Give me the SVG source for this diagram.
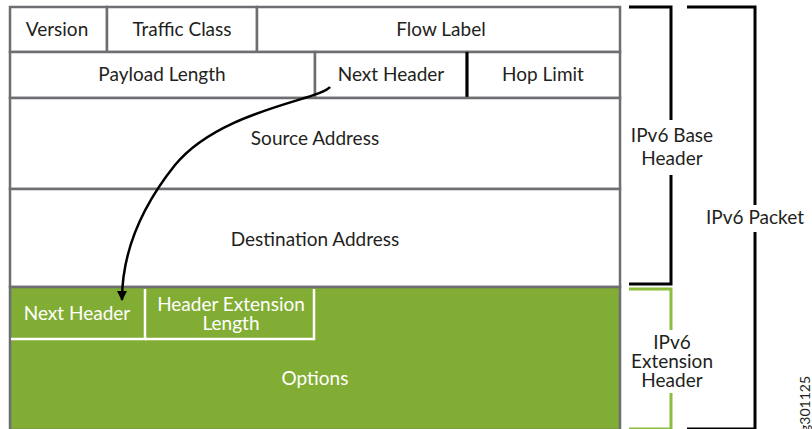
<svg xmlns="http://www.w3.org/2000/svg" width="812" height="429" viewBox="0 0 812 429">
  <defs>
    <style>
      .cell { fill: #ffffff; stroke: #6d6e71; stroke-width: 2.5; }
      .green { fill: #82ad34; stroke: #6d6e71; stroke-width: 2.5; }
      .wline { fill: none; stroke: #ffffff; stroke-width: 2.5; }
      .t { font-family: Lato, "Liberation Sans", sans-serif; font-size: 19px; fill: #231f20; text-anchor: middle; }
      .tw { font-family: Lato, "Liberation Sans", sans-serif; font-size: 19px; fill: #ffffff; text-anchor: middle; }
      .br { fill: none; stroke: #000000; stroke-width: 3; }
      .brg { fill: none; stroke: #8cbd3f; stroke-width: 3; }
      .conn { fill: none; stroke: #000000; stroke-width: 2.5; }
    </style>
    <marker id="arrow" viewBox="0 0 10 10" refX="9" refY="5" markerWidth="4" markerHeight="4" orient="auto" markerUnits="strokeWidth">
      <path d="M0,0 L10,5 L0,10 Z" fill="#000000"/>
    </marker>
  </defs>

  <g id="version"><rect class="cell" x="10" y="7" width="97" height="45"/><text class="t" x="57" y="36">Version</text></g>
  <g id="traffic-class"><rect class="cell" x="107" y="7" width="150" height="45"/><text class="t" x="182" y="36">Traffic Class</text></g>
  <g id="flow-label"><rect class="cell" x="257" y="7" width="363" height="45"/><text class="t" x="441" y="36">Flow Label</text></g>

  <g id="payload-length"><rect class="cell" x="10" y="52" width="305" height="46"/><text class="t" x="162" y="81">Payload Length</text></g>
  <g id="next-header"><rect class="cell" x="315" y="52" width="152" height="46"/><text class="t" x="391" y="81">Next Header</text></g>
  <g id="hop-limit"><rect class="cell" x="467" y="52" width="153" height="46"/><line x1="467" y1="52" x2="467" y2="98" stroke="#000" stroke-width="3"/><text class="t" x="543" y="81">Hop Limit</text></g>

  <g id="source-address"><rect class="cell" x="10" y="98" width="610" height="91"/><text class="t" x="315" y="145">Source Address</text></g>
  <g id="destination-address"><rect class="cell" x="10" y="189" width="610" height="98"/><text class="t" x="315" y="246">Destination Address</text></g>

  <g id="options"><rect class="green" x="10" y="287" width="610" height="143"/><text class="tw" x="315" y="385">Options</text></g>
  <g id="ext-next-header"><path class="wline" d="M11,339 H145 V289"/><text class="tw" x="77" y="320">Next Header</text></g>
  <g id="header-ext-length"><path class="wline" d="M145,339 H314 V289"/><text class="tw" x="231" y="311">Header Extension</text><text class="tw" x="231" y="330">Length</text></g>

  <g id="base-header-bracket">
    <path class="br" d="M629,7 H671 V120 M671,175 V284 H629"/>
    <text class="t" x="672" y="142">IPv6 Base</text>
    <text class="t" x="672" y="165">Header</text>
  </g>
  <g id="extension-header-bracket">
    <path class="brg" d="M629,289 H671 V330 M671,393 V429 H629"/>
    <text class="t" x="672" y="349">IPv6</text>
    <text class="t" x="672" y="368">Extension</text>
    <text class="t" x="672" y="387">Header</text>
  </g>
  <g id="packet-bracket">
    <path class="br" d="M687,7 H755 V205 M755,232 V429 H687"/>
    <text class="t" x="755" y="224">IPv6 Packet</text>
  </g>

  <g id="connectors">
    <path class="conn" d="M330,87 C320,100 220,110 175,165 C135,215 122,260 122,300" marker-end="url(#arrow)"/>
  </g>

  <text x="810" y="432" transform="rotate(-90 810 432)" font-family="Lato, 'Liberation Sans', sans-serif" font-size="14" fill="#231f20">g301125</text>
</svg>
